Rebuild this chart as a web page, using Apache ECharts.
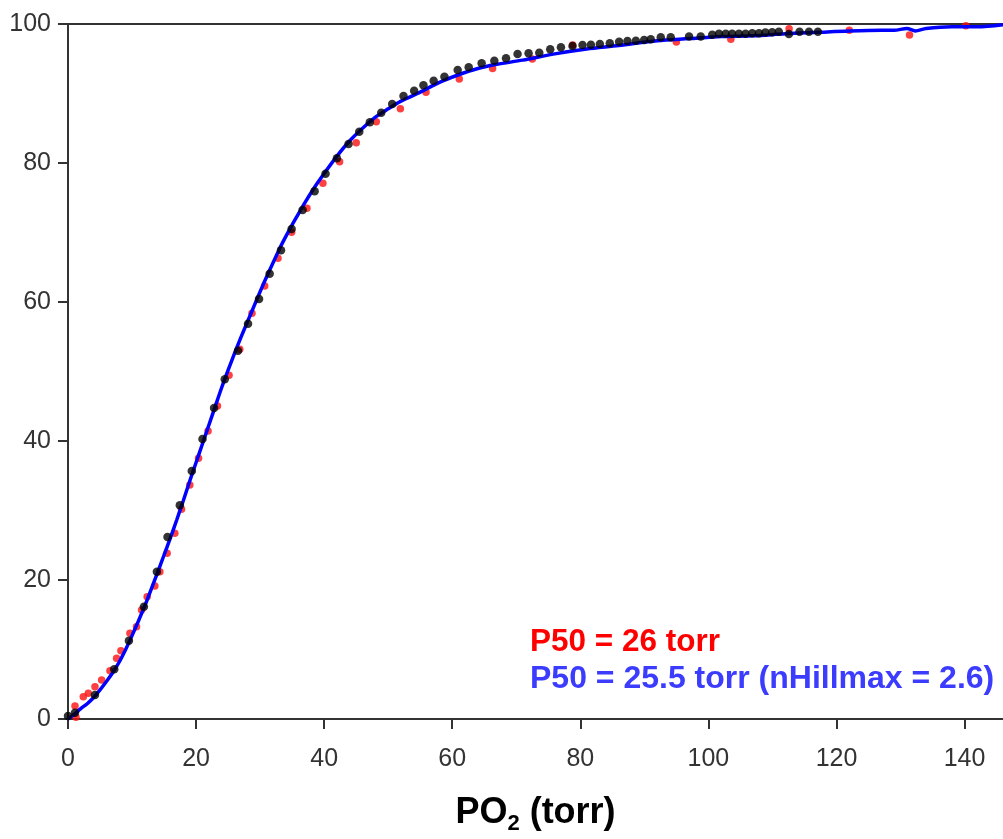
<!DOCTYPE html>
<html>
<head>
<meta charset="utf-8">
<script src="https://cdn.jsdelivr.net/npm/echarts@6/dist/echarts.min.js"></script>
<style>
html,body{margin:0;padding:0;background:#fff;}
#chart{width:1003px;height:839px;}
</style>
</head>
<body>
<div id="chart"></div>
<script>
/*数据: [PO2, 饱和度%]*/
var xTicks = [0,20,40,60,80,100,120,140];
var yTicks = [0,20,40,60,80,100];

// 红点
var redPts = [
  [1.25,0.24],[1.09,1.87],[2.39,3.21],[3.17,3.69],[4.21,4.65],[5.25,5.61],[6.55,6.95],
  [7.59,8.73],[8.26,9.83],[9.67,12.33],[10.7,13.28],[11.49,15.68],[12.36,17.6],[13.56,19.14],
  [14.34,21.2],[15.48,23.84],[16.68,26.72],[17.73,30.17],[19.02,33.67],[20.38,37.51],
  [21.87,41.44],[23.34,45.04],[25.15,49.45],[26.82,53.2],[28.73,58.37],[30.71,62.3],
  [32.79,66.29],[34.92,70.03],[37.31,73.48],[39.8,77.08],[42.41,80.19],[45.01,82.92],
  [48.13,85.94],[51.9,87.8],[55.9,90.17],[61.1,92.09],[66.3,93.6],[72.5,94.96],[78.8,96.98],
  [95.0,97.4],[103.5,97.8],[112.6,99.3],[122.0,99.1],[131.4,98.4],[140.2,99.76]
];

// 黑点
var blackPts = [
  [0,0.43],[1.09,0.91],[4.21,3.45],[7.22,7.15],[9.51,11.27],[11.85,16.16],[13.88,21.2],
  [15.54,26.2],[17.46,30.75],[19.33,35.7],[21.0,40.3],[22.81,44.75],[24.48,48.88],
  [26.55,53.0],[28.11,56.88],[29.83,60.43],[31.49,64.07],[33.26,67.44],[34.92,70.5],
  [36.64,73.24],[38.51,75.93],[40.22,78.46],[41.99,80.68],[43.81,82.73],[45.48,84.5],
  [47.13,85.86],[48.91,87.24],[50.62,88.49],[52.39,89.64],[54.05,90.4],[55.5,91.2],
  [57.1,91.84],[58.78,92.42],[60.85,93.38],[62.57,93.77],[64.59,94.35],[66.57,94.72],
  [68.4,95.06],[70.2,95.68],[71.92,95.78],[73.59,95.87],[75.3,96.36],[76.97,96.65],
  [78.78,96.83],[80.34,96.98],[81.65,97.02],[83.05,97.12],[84.6,97.22],[86.06,97.45],
  [87.36,97.55],[88.67,97.6],[89.96,97.7],[91.0,97.8],[92.56,98.09],[94.12,98.09],
  [96.98,98.2],[98.8,98.2],[100.6,98.45],[101.65,98.6],[102.7,98.6],[103.7,98.6],
  [104.77,98.6],[105.8,98.6],[106.85,98.66],[107.9,98.66],[108.9,98.76],[109.96,98.83],
  [111.0,98.9],[112.57,98.56],[114.23,98.9],[115.7,98.9],[117.1,98.9]
];

// 蓝线
var bluePts = [
  [0,0],[1,0.7],[2,1.5],[3,2.2],[4,3.1],[5,4.2],[6,5.4],[7,6.7],[8,8.2],[9,10.0],
  [10,12.0],[11,14.1],[12,16.3],[13,18.7],[14,21.1],[15,23.6],[16,26.1],[17,28.7],
  [18,31.4],[19,34.2],[20,36.9],[21,39.6],[22,42.3],[23,45.0],[24,47.7],[25,50.2],
  [26,52.6],[27,54.9],[28,57.1],[29,59.3],[30,61.5],[31,63.6],[32,65.6],[33,67.6],
  [34,69.4],[35,71.1],[36,72.7],[37,74.3],[38,75.8],[39,77.2],[40,78.5],[42,81.0],
  [44,83.2],[46,85.0],[48,86.6],[50,87.8],[52,88.9],[55,90.2],[58,91.6],[61,92.7],
  [64,93.6],[67,94.2],[71,94.8],[76,95.7],[81,96.4],[86,96.9],[92,97.6],[97,97.9],
  [102,98.2],[107,98.3],[112,98.6],[117,98.8],[122,99.0],[127,99.1],[129,99.1],
  [131,99.35],[132.3,99.0],[134,99.35],[138,99.6],[142,99.6],[146,99.9]
];

var font = '"Liberation Sans", Arial, sans-serif';
var myChart = echarts.init(document.getElementById('chart'));
var option = {
  animation: false,
  backgroundColor: '#fff',
  grid: { left: 68, right: 0, top: 24, bottom: 120, outerBoundsMode: 'none', containLabel: false },
  xAxis: [
    {
      type: 'value', min: 0, max: 146, interval: 20,
      axisLine: { show: true, onZero: false, lineStyle: { color: '#333', width: 2 } },
      axisTick: { show: true, length: 10, lineStyle: { color: '#333', width: 2 } },
      axisLabel: {
        margin: 28, fontSize: 25, color: '#333', fontFamily: font, showMaxLabel: false,
        formatter: function (v) { return xTicks.indexOf(v) >= 0 ? String(v) : ''; }
      },
      splitLine: { show: false },
      name: '{a|PO}{b|2}{a| (torr)}',
      nameLocation: 'middle',
      nameGap: 76,
      nameTextStyle: {
        rich: {
          a: { fontSize: 36, fontWeight: 'bold', color: '#000', fontFamily: font, lineHeight: 40, verticalAlign: 'top' },
          b: { fontSize: 22, fontWeight: 'bold', color: '#000', fontFamily: font, lineHeight: 22, verticalAlign: 'bottom' }
        }
      }
    },
    {
      type: 'value', position: 'top', min: 0, max: 146,
      axisLine: { show: true, onZero: false, lineStyle: { color: '#333', width: 2 } },
      axisTick: { show: false }, axisLabel: { show: false }, splitLine: { show: false }
    }
  ],
  yAxis: {
    type: 'value', min: 0, max: 100, interval: 20,
    axisLine: { show: true, onZero: false, lineStyle: { color: '#333', width: 2 } },
    axisTick: { show: true, length: 10, lineStyle: { color: '#333', width: 2 } },
    axisLabel: {
      margin: 17, fontSize: 25, color: '#333', fontFamily: font,
      formatter: function (v) { return yTicks.indexOf(v) >= 0 ? String(v) : ''; }
    },
    splitLine: { show: false }
  },
  series: [
    {
      type: 'scatter', data: redPts, symbolSize: 7.5, clip: false, z: 2,
      itemStyle: { color: '#ff1010' }
    },
    {
      type: 'line', data: bluePts, showSymbol: false, smooth: 0.3, z: 3,
      lineStyle: { color: '#0000ff', width: 3.5 }
    },
    {
      type: 'scatter', data: blackPts, symbolSize: 8.5, clip: false, z: 4,
      itemStyle: { color: '#000' }
    }
  ],
  graphic: [
    {
      type: 'text', left: 530, top: 626, z: 10,
      style: { text: 'P50 = 26 torr', fill: '#ff0000', font: 'bold 31.5px ' + font }
    },
    {
      type: 'text', left: 530, top: 663, z: 10,
      style: { text: 'P50 = 25.5 torr (nHillmax = 2.6)', fill: '#3c3cff', font: 'bold 32px ' + font }
    }
  ]
};
myChart.setOption(option);
</script>
</body>
</html>
